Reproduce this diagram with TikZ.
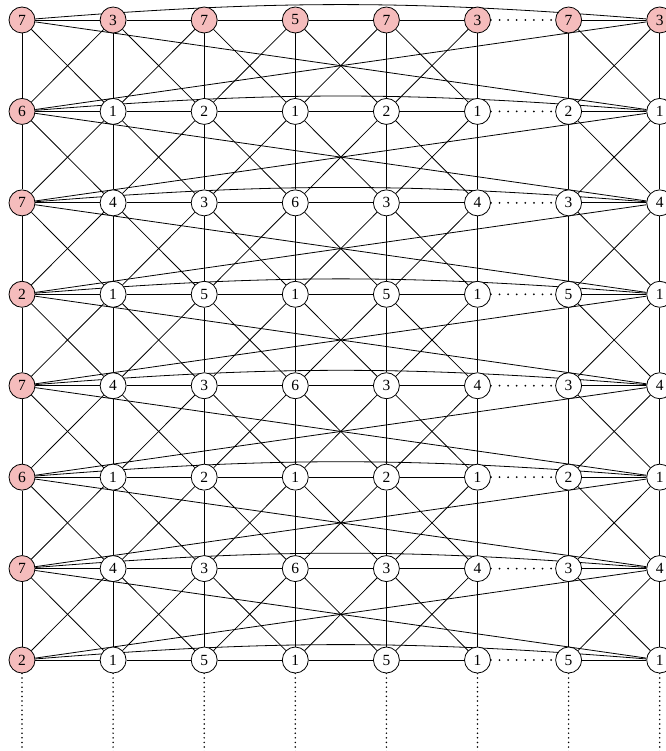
\documentclass[tikz,border=0pt]{standalone}
\usepackage{fontspec}
\setmainfont{Liberation Serif}
\usetikzlibrary{backgrounds}
\definecolor{seedred}{RGB}{245,188,188}

\begin{document}
\begin{tikzpicture}[
		x=91.1pt,y=-91.43pt,
		edge/.style={line width=0.8pt},
		gap/.style={line width=2pt, line cap=round, dash pattern=on 0pt off 8.6pt},
		tail/.style={line width=1.7pt, line cap=round, dash pattern=on 0pt off 4.6pt},
		vtx/.style={circle, draw, line width=0.8pt, fill=white, minimum size=26pt, inner sep=0pt, font=\fontsize{15.5}{15.5}\selectfont},
		seed/.style={vtx, fill=seedred}
		]
		
		\useasboundingbox (-0.2415,-0.2187) rectangle (7.0582,7.9952);
		
		% =========================
		% vertices, row by row
		% =========================
		\foreach \r/\labs in {0/{7,3,7,5,7,3,7,3},1/{6,1,2,1,2,1,2,1},2/{7,4,3,6,3,4,3,4},3/{2,1,5,1,5,1,5,1},4/{7,4,3,6,3,4,3,4},5/{6,1,2,1,2,1,2,1},6/{7,4,3,6,3,4,3,4},7/{2,1,5,1,5,1,5,1}} {
			\foreach \lab [count=\c from 0] in \labs {
				\ifnum\r=0 \def\sty{seed}\else\ifnum\c=0 \def\sty{seed}\else\def\sty{vtx}\fi\fi
				\node[\sty] (n-\c-\r) at (\c,\r) {\lab};
			}
		}
		
		% =========================
		% edges, behind the vertices
		% =========================
		\begin{scope}[on background layer]
			% rows, omitted columns and wrap arcs
			\foreach \r in {0,...,7} {
				\foreach \c [evaluate=\c as \d using int(\c+1)] in {0,1,2,3,4,6} {
					\draw[edge] (n-\c-\r) -- (n-\d-\r);
				}
				\draw[gap] (n-5-\r) -- (n-6-\r);
				\draw[edge] (n-0-\r) to[bend left=4.6] (n-7-\r);
			}
			
			% columns
			\foreach \c in {0,...,7} {
				\foreach \r [evaluate=\r as \s using int(\r+1)] in {0,...,6} {
					\draw[edge] (n-\c-\r) -- (n-\c-\s);
				}
			}
			
			% crossing diagonals
			\foreach \c [evaluate=\c as \d using int(\c+1)] in {0,1,2,3,4,6} {
				\foreach \r [evaluate=\r as \s using int(\r+1)] in {0,...,6} {
					\draw[edge] (n-\c-\r) -- (n-\d-\s);
					\draw[edge] (n-\d-\r) -- (n-\c-\s);
				}
			}
			
			% long wrap diagonals
			\foreach \r [evaluate=\r as \s using int(\r+1)] in {0,...,6} {
				\draw[edge] (n-0-\r) -- (n-7-\s);
				\draw[edge] (n-0-\s) -- (n-7-\r);
			}
			
			% columns running on below
			\foreach \c in {0,...,7} {
				\coordinate (t-\c) at (\c,8.1);
				\draw[tail] (n-\c-7) -- (t-\c);
			}
		\end{scope}
		
	\end{tikzpicture}
\end{document}
